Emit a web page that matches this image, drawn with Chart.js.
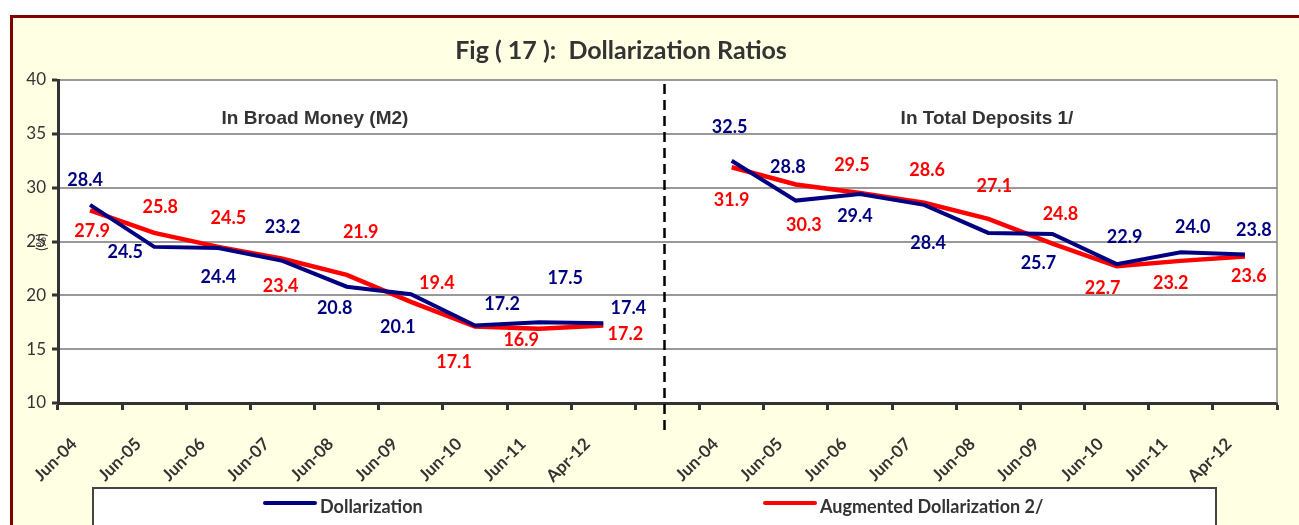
<!DOCTYPE html>
<html>
<head>
<meta charset="utf-8">
<title>Dollarization Ratios</title>
<script src="https://cdn.jsdelivr.net/npm/chart.js@4.4.1/dist/chart.umd.min.js"></script>
<style>
  html, body { margin: 0; padding: 0; background: #fff; overflow: hidden; }
  .frame {
    position: absolute; left: 10px; top: 15px; width: 1320px; height: 540px;
    background: #ffffe3; border-left: 3px solid #800000; border-top: 3px solid #800000;
  }
  #chart { position: absolute; left: 0; top: 0; }
</style>
</head>
<body>
<div class="frame"></div>
<canvas id="chart" width="1299" height="525"></canvas>
<script>
// categories (same periods for both panels, blank slot between them)
const periods = ['Jun-04', 'Jun-05', 'Jun-06', 'Jun-07', 'Jun-08', 'Jun-09', 'Jun-10', 'Jun-11', 'Apr-12'];

// In Broad Money (M2)
const m2Dollarization = [28.4, 24.5, 24.4, 23.2, 20.8, 20.1, 17.2, 17.5, 17.4];
const m2Augmented = [27.9, 25.8, 24.5, 23.4, 21.9, 19.4, 17.1, 16.9, 17.2];

// In Total Deposits 1/
const depDollarization = [32.5, 28.8, 29.4, 28.4, 25.8, 25.7, 22.9, 24.0, 23.8];
const depAugmented = [31.9, 30.3, 29.5, 28.6, 27.1, 24.8, 22.7, 23.2, 23.6];

const yTicks = [10, 15, 20, 25, 30, 35, 40];

const titleText = 'Fig ( 17 ):  Dollarization Ratios';
const panelTitles = ['In Broad Money (M2)', 'In Total Deposits 1/'];
const seriesNames = ['Dollarization', 'Augmented Dollarization 2/'];

// data label nudges (px) from each point, null = no label
const blueLabelShift = [
    [-5, -25], [-29, 5], [0, 29], [0, -34], [-12, 21], [-13, 33], [27, -21], [26, -44], [25, -15],
    null,
    [-2, -34], [-8, -33], [-5, 22], [4, 38], null, [-14, 29], [8, -27], [12, -25], [9, -24]
];
const redLabelShift = [
    [2, 21], [6, -26], [10, -29], [-2, 27], [14, -43], [26, -19], [-21, 36], [-18, 11], [22, 9],
    null,
    [0, 33], [8, 41], [-8, -28], [3, -33], [6, -33], [8, -29], [-14, 22], [-10, 22], [4, 20]
];

const labels = [...periods, '', ...periods];
const dollarization = [...m2Dollarization, null, ...depDollarization];
const augmented = [...m2Augmented, null, ...depAugmented];
const gapIndex = periods.length;

const BLUE = '#000080';
const RED = '#ff0000';
const TEXT = '#333333';

const decorPlugin = {
    id: 'decor',
    beforeDraw(chart) {
        const { ctx, chartArea: a } = chart;
        ctx.save();
        ctx.fillStyle = '#ffffff';
        ctx.fillRect(a.left, a.top, a.right - a.left, a.bottom - a.top);
        ctx.restore();
    },
    afterDatasetsDraw(chart) {
        const { ctx, chartArea: a } = chart;
        const x = chart.scales.x;

        // right border of plot area
        ctx.save();
        ctx.strokeStyle = '#888888';
        ctx.lineWidth = 1.5;
        ctx.beginPath();
        ctx.moveTo(a.right, a.top);
        ctx.lineTo(a.right, a.bottom);
        ctx.stroke();

        // dashed divider between the panels
        const dx = x.getPixelForValue(gapIndex) - 3;
        ctx.strokeStyle = '#000000';
        ctx.lineWidth = 2.5;
        ctx.setLineDash([10, 6]);
        ctx.beginPath();
        ctx.moveTo(dx, a.top + 4);
        ctx.lineTo(dx, a.bottom + 30);
        ctx.stroke();
        ctx.setLineDash([]);

        // data labels
        ctx.font = 'bold 18px Lato';
        ctx.textAlign = 'center';
        ctx.textBaseline = 'middle';
        const sets = [[0, BLUE, blueLabelShift], [1, RED, redLabelShift]];
        sets.forEach(([di, color, shift]) => {
            const meta = chart.getDatasetMeta(di);
            const values = chart.data.datasets[di].data;
            ctx.fillStyle = color;
            meta.data.forEach((pt, i) => {
                if (values[i] == null || !shift[i]) return;
                ctx.fillText(values[i].toFixed(1), pt.x + shift[i][0], pt.y + shift[i][1]);
            });
        });
        ctx.restore();
    },
    afterDraw(chart) {
        const { ctx } = chart;
        ctx.save();
        ctx.fillStyle = TEXT;
        ctx.textAlign = 'center';
        ctx.textBaseline = 'middle';

        ctx.font = 'bold 25px Lato';
        ctx.fillText(titleText, 621, 51);

        ctx.font = 'bold 19px "Liberation Sans"';
        ctx.fillText(panelTitles[0], 315, 119);
        ctx.fillText(panelTitles[1], 987, 119);

        // (%) axis note
        ctx.save();
        ctx.translate(42, 242);
        ctx.rotate(-Math.PI / 2);
        ctx.font = '13px Lato';
        ctx.fillText('(%)', 0, 0);
        ctx.restore();

        // legend box
        ctx.fillStyle = '#ffffff';
        ctx.fillRect(93, 488, 1123, 60);
        ctx.strokeStyle = '#444444';
        ctx.lineWidth = 2;
        ctx.strokeRect(93, 488, 1123, 60);

        const items = [[265, BLUE, seriesNames[0]], [765, RED, seriesNames[1]]];
        ctx.textAlign = 'left';
        ctx.font = 'bold 18px Lato';
        items.forEach(([lx, color, name]) => {
            ctx.strokeStyle = color;
            ctx.lineWidth = 4;
            ctx.lineCap = 'round';
            ctx.beginPath();
            ctx.moveTo(lx, 503);
            ctx.lineTo(lx + 50, 503);
            ctx.stroke();
            ctx.fillStyle = TEXT;
            ctx.fillText(name, lx + 55, 507);
        });
        ctx.restore();
    }
};

function initChart() {
    const ctx = document.getElementById('chart');

    new Chart(ctx, {
        type: 'line',
        data: {
            labels: labels,
            datasets: [{
                label: seriesNames[0],
                data: dollarization,
                borderColor: BLUE,
                borderWidth: 4,
                pointRadius: 0,
                tension: 0,
                spanGaps: false
            }, {
                label: seriesNames[1],
                data: augmented,
                borderColor: RED,
                borderWidth: 4.5,
                pointRadius: 0,
                tension: 0,
                spanGaps: false
            }]
        },
        options: {
            responsive: false,
            animation: false,
            devicePixelRatio: 1,
            layout: {
                padding: { left: 0, top: 80, right: 22, bottom: 0 }
            },
            plugins: {
                legend: { display: false },
                title: { display: false },
                tooltip: { enabled: false }
            },
            scales: {
                x: {
                    type: 'category',
                    offset: true,
                    afterFit: (s) => { s.height = 122; },
                    grid: {
                        offset: true,
                        drawOnChartArea: false,
                        tickLength: 7,
                        tickColor: TEXT,
                        tickWidth: 3
                    },
                    border: { color: TEXT, width: 3 },
                    ticks: {
                        autoSkip: false,
                        maxRotation: 45,
                        minRotation: 45,
                        labelOffset: -16,
                        padding: 24,
                        color: TEXT,
                        font: { family: 'Lato', size: 17, weight: 'bold' }
                    }
                },
                y: {
                    min: yTicks[0],
                    max: yTicks[yTicks.length - 1],
                    afterFit: (s) => { s.width = 58; },
                    afterBuildTicks: (s) => { s.ticks = yTicks.map(v => ({ value: v })); },
                    grid: {
                        color: '#999999',
                        lineWidth: 2,
                        tickLength: 6,
                        tickColor: TEXT,
                        tickWidth: 3
                    },
                    border: { color: TEXT, width: 3 },
                    ticks: {
                        padding: 6,
                        color: TEXT,
                        font: { family: 'Lato', size: 17 }
                    }
                }
            }
        },
        plugins: [decorPlugin]
    });
}

initChart();
</script>
</body>
</html>
